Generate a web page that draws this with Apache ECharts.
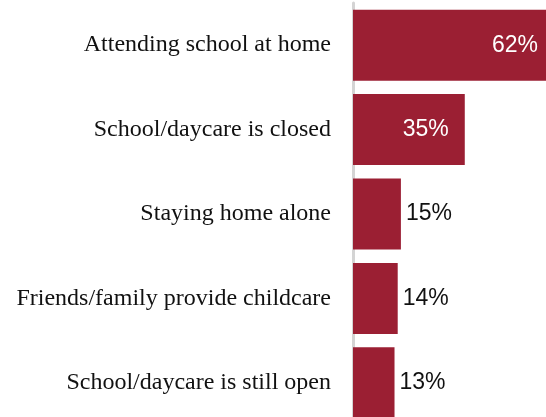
<!DOCTYPE html>
<html>
<head>
<meta charset="utf-8">
<script src="https://cdn.jsdelivr.net/npm/echarts@6/dist/echarts.min.js"></script>
<style>
html,body{margin:0;padding:0;background:#fff;}
#chart{width:546px;height:417px;}
</style>
</head>
<body>
<div id="chart"></div>
<script>
const categories = [
  "Attending school at home",
  "School/daycare is closed",
  "Staying home alone",
  "Friends/family provide childcare",
  "School/daycare is still open"
];
const values = [62, 35, 15, 14, 13];
const insideThreshold = 30;

const chart = echarts.init(document.getElementById('chart'), null, {renderer: 'canvas'});
chart.setOption({
  animation: false,
  backgroundColor: '#ffffff',
  grid: {left: 353, top: 3, width: 198, height: 422, outerBoundsMode: 'none', containLabel: false},
  xAxis: {
    type: 'value', min: 0, max: 62, show: false
  },
  yAxis: {
    type: 'category', data: categories, inverse: true,
    axisLine: {show: true, lineStyle: {color: '#d4d4d4', width: 3}},
    axisTick: {show: false},
    axisLabel: {
      margin: 22, color: '#111111', fontSize: 24,
      fontFamily: '"Liberation Serif", "Times New Roman", serif'
    }
  },
  series: [{
    type: 'bar',
    barWidth: 71,
    data: values.map((v, i) => ({
      value: v,
      label: v > insideThreshold
        ? {position: 'insideRight', distance: i === 0 ? 13 : 16, color: '#ffffff'}
        : {position: 'right', distance: 5, color: '#111111'}
    })),
    itemStyle: {color: '#9b1f33'},
    label: {
      show: true,
      fontSize: 23,
      fontFamily: '"Liberation Sans", Arial, sans-serif',
      formatter: p => p.value + '%'
    }
  }]
});
</script>
</body>
</html>
